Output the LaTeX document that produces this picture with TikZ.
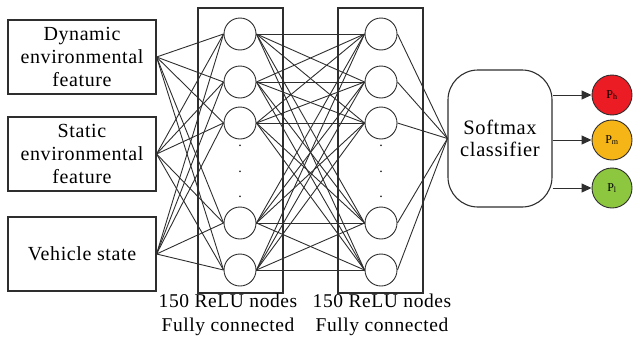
\documentclass[tikz,border=0pt]{standalone}
\usepackage{fontspec}
\setmainfont{Liberation Serif}
\newfontfamily\labelfont[LetterSpace=3]{Liberation Serif}
\usetikzlibrary{arrows.meta}
\definecolor{ink}{HTML}{2E2E2E}
\definecolor{pred}{HTML}{EC1C24}
\definecolor{pyel}{HTML}{F5B516}
\definecolor{pgrn}{HTML}{8DC63F}
\tikzset{
  inbox/.style={draw=ink, line width=1.1pt, minimum width=148pt, minimum height=74pt,
    align=center, inner sep=0pt, font=\labelfont\fontsize{20}{23}\selectfont},
  layerbox/.style={draw=ink, line width=1.1pt},
  neuron/.style={circle, draw=ink, line width=0.9pt, fill=white, minimum size=32pt, inner sep=0pt},
  link/.style={draw=ink, line width=0.9pt},
  caption/.style={align=center, font=\labelfont\fontsize{19.5}{24}\selectfont},
  softbox/.style={draw=ink, line width=1.1pt, rounded corners=30pt, minimum width=104pt,
    minimum height=137pt, align=center, font=\labelfont\fontsize{20.5}{22}\selectfont},
  outnode/.style={circle, draw=ink, line width=0.9pt, minimum size=40pt, inner sep=0pt,
    font=\rmfamily\fontsize{12}{14}\selectfont},
  outarrow/.style={draw=ink, line width=1pt, -{Triangle[length=10pt,width=9pt]}},
  dotmark/.style={font=\rmfamily\fontsize{14}{14}\selectfont}
}
\begin{document}
\begin{tikzpicture}[x=1pt, y=-1pt]
\useasboundingbox (0,0) rectangle (634,343);

% input feature boxes
\node[inbox] (in1) at (82,57) {Dynamic\\environmental\\feature};
\node[inbox] (in2) at (82,154) {Static\\environmental\\feature};
\node[inbox] (in3) at (82,254) {Vehicle state};

% layer frames
\draw[layerbox] (198,8) rectangle (283,293);
\draw[layerbox] (338,8) rectangle (423,293);

% hidden neurons
\foreach \i/\y in {1/34,2/82,3/123,4/223,5/270}{
  \node[neuron] (a\i) at (240,\y) {};
  \node[neuron] (b\i) at (381,\y) {};
}
\foreach \y in {146,172,197}{
  \node[dotmark] at (240,\y) {.};
  \node[dotmark] at (381,\y) {.};
}

% softmax classifier
\node[softbox] (sm) at (500,138.5) {Softmax\\classifier};

% fully connected links
\foreach \s in {in1,in2,in3}{
  \foreach \i in {1,...,5}{
    \draw[link] (\s.east) -- (a\i.west);
  }
}
\foreach \i in {1,...,5}{
  \foreach \j in {1,...,5}{
    \draw[link] (a\i.east) -- (b\j.west);
  }
  \draw[link] (b\i.east) -- (sm.west);
}

% output classes
\node[outnode, fill=pred] (ph) at (612,95) {P\textsubscript{h}};
\node[outnode, fill=pyel] (pm) at (612,140) {P\textsubscript{m}};
\node[outnode, fill=pgrn] (pl) at (612,188) {P\textsubscript{l}};
\draw[outarrow] (sm.east |- ph) -- (ph.west);
\draw[outarrow] (sm.east |- pm) -- (pm.west);
\draw[outarrow] (sm.east |- pl) -- (pl.west);

% layer captions
\node[caption] (c1) at (228,315) {150 ReLU nodes\\Fully connected};
\node[caption] (c2) at (382,315) {150 ReLU nodes\\Fully connected};
\end{tikzpicture}
\end{document}
